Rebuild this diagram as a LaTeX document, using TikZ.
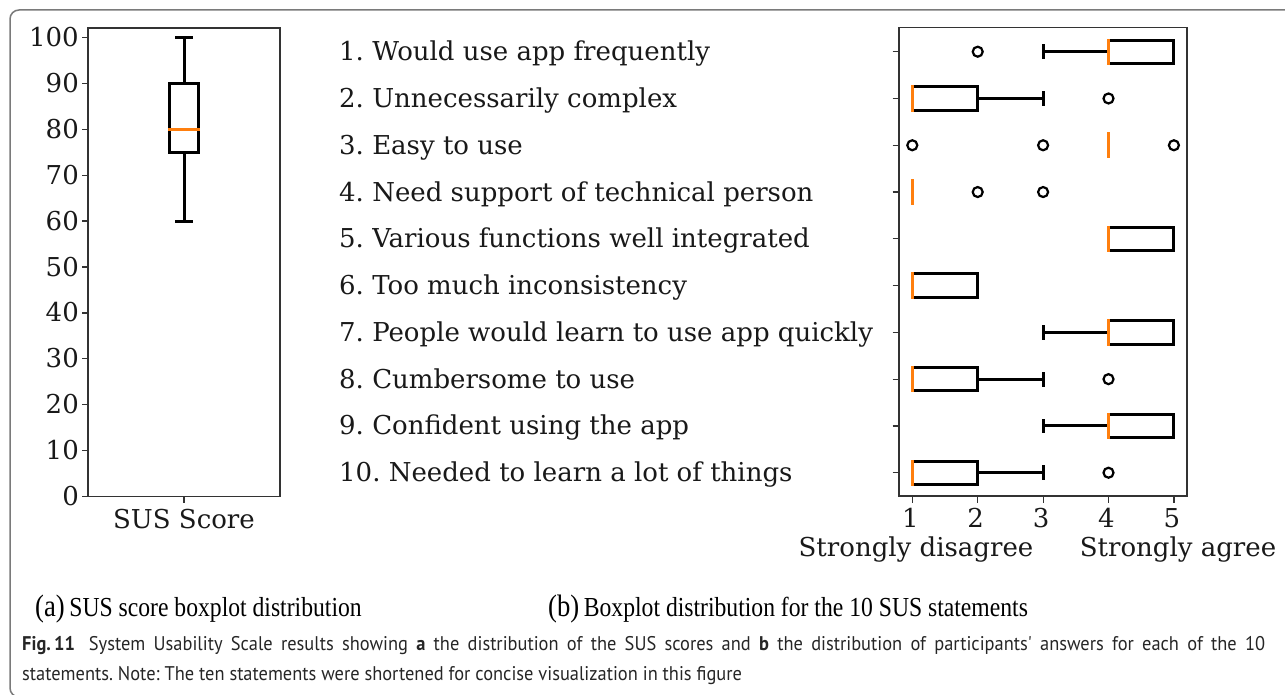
\documentclass[tikz,border=0pt]{standalone}
\usepackage{fontspec}
\setmainfont{DejaVu Serif}
\newfontfamily\capfont[FakeStretch=0.93]{PT Sans}
\newfontfamily\subfont[FakeStretch=0.86]{Liberation Serif}
\usetikzlibrary{positioning}
\definecolor{mplorange}{HTML}{FF7F0E}
\definecolor{framegray}{HTML}{7A7A7A}
\definecolor{axisgray}{HTML}{333333}
\tikzstyle{axisframe} = [draw=axisgray, line width=1.3pt]
\tikzstyle{tickmark} = [draw=axisgray, line width=1.2pt]
\tikzstyle{boxline} = [draw=black, line width=3pt, line cap=rect]
\tikzstyle{median} = [draw=mplorange, line width=3pt, line cap=rect]
\tikzstyle{flier} = [draw=black, line width=2.2pt]
\tikzstyle{ticklabel} = [font=\fontsize{26}{30}\selectfont, inner sep=0pt, text=black!90]
\tikzstyle{statement} = [font=\fontsize{26}{30}\selectfont, inner sep=0pt, anchor=base west, text=black!90]
\tikzstyle{subcap} = [font=\subfont\fontsize{27.5}{30}\selectfont, inner sep=0pt, anchor=base west]
\tikzstyle{caption} = [font=\capfont\fontsize{19.8}{24}\selectfont, inner sep=0pt, anchor=base west, text=black!85]
\frenchspacing

\begin{document}
\begin{tikzpicture}[x=1pt, y=-1pt]
    \useasboundingbox (0,0) rectangle (1285,695);
    \clip (0,0) rectangle (1285,695);
    \draw[framegray, line width=1.5pt, rounded corners=9pt] (10,10) rectangle (1310,697);

    % (a) SUS score
    \draw[axisframe] (88,28) rectangle (280,496.7);
    \foreach \v in {0,10,...,100} {
        \pgfmathsetmacro{\yy}{496.7-4.594*\v}
        \draw[tickmark] (82,\yy) -- (88,\yy);
        \node[ticklabel, anchor=base east] (score\v) at (79,\yy+9) {\v};
    }
    \begin{scope}[shift={(184pt,-496.7pt)}, x=1pt, y=4.594pt]
        \draw[boxline] (0,75) -- (0,60);
        \draw[boxline] (-7.5,60) -- (7.5,60);
        \draw[boxline] (0,90) -- (0,100);
        \draw[boxline] (-7.5,100) -- (7.5,100);
        \draw[draw=black, line width=3pt] (-14.5,75) rectangle (14.5,90);
        \draw[median] (-14.5,80) -- (14.5,80);
    \end{scope}
    \draw[tickmark] (184,496.7) -- (184,503);
    \node[ticklabel, anchor=base] (suslabel) at (184,528) {SUS Score};

    % (b) statements
    \draw[axisframe] (899,27.3) rectangle (1187,496);
    \foreach \r/\txt in {1/{1. Would use app frequently},
                         2/{2. Unnecessarily complex},
                         3/{3. Easy to use},
                         4/{4. Need support of technical person},
                         5/{5. Various functions well integrated},
                         6/{6. Too much inconsistency},
                         7/{7. People would learn to use app quickly},
                         8/{8. Cumbersome to use},
                         9/{9. Confident using the app},
                         10/{10. Needed to learn a lot of things}} {
        \pgfmathsetmacro{\yy}{51.7+46.78*(\r-1)}
        \draw[tickmark] (892.7,\yy) -- (899,\yy);
        \node[statement] (item\r) at (339,\yy+9) {\txt};
    }
    \foreach \s in {1,...,5} {
        \pgfmathsetmacro{\xx}{912.3+65.4*(\s-1)}
        \draw[tickmark] (\xx,496) -- (\xx,502.5);
        \node[ticklabel, anchor=base] (likert\s) at (\xx-2,527) {\s};
    }
    \node[ticklabel, anchor=base] (disagree) at (916,556) {Strongly disagree};
    \node[ticklabel, anchor=base] (agree) at (1178,556) {Strongly agree};

    \begin{scope}[shift={(846.9pt,-4.92pt)}, x=65.4pt, y=-46.78pt]
        % boxes with whiskers: row / q1 / q3 / lower whisker / upper whisker
        \foreach \r/\qa/\qb/\lw/\uw in {1/4/5/3/5, 2/1/2/1/3, 5/4/5/4/5, 6/1/2/1/2,
                                         7/4/5/3/5, 8/1/2/1/3, 9/4/5/3/5, 10/1/2/1/3} {
            \draw[boxline] (\lw,\r) -- (\qa,\r);
            \draw[boxline] (\qb,\r) -- (\uw,\r);
            \draw[boxline] (\lw,\r-0.125) -- (\lw,\r+0.125);
            \draw[boxline] (\uw,\r-0.125) -- (\uw,\r+0.125);
            \draw[draw=black, line width=3pt] (\qa,\r-0.25) rectangle (\qb,\r+0.25);
        }
        % medians
        \foreach \r/\m in {1/4, 2/1, 3/4, 4/1, 5/4, 6/1, 7/4, 8/1, 9/4, 10/1}
            \draw[median] (\m,\r-0.25) -- (\m,\r+0.25);
        % outliers
        \foreach \r/\o in {1/2, 2/4, 3/1, 3/3, 3/5, 4/2, 4/3, 8/4, 10/4}
            \draw[flier] (\o,\r) circle (5pt);
    \end{scope}

    % captions
    \node[subcap] (capa) at (35,616) {{\fontsize{31}{30}\selectfont(a)}\,SUS score boxplot distribution};
    \node[subcap] (capb) at (548,616) {{\fontsize{31}{30}\selectfont(b)}\,Boxplot distribution for the 10 SUS statements};
    \node[caption] (fig) at (22,650) {\makebox[1243pt][s]{\textbf{Fig.\,11}\hspace{0.7em}System Usability Scale results showing \textbf{a} the distribution of the SUS scores and \textbf{b} the distribution of participants' answers for each of the 10}};
    \node[caption] (fig2) at (22,680) {statements. Note: The ten statements were shortened for concise visualization in this figure};
\end{tikzpicture}
\end{document}
